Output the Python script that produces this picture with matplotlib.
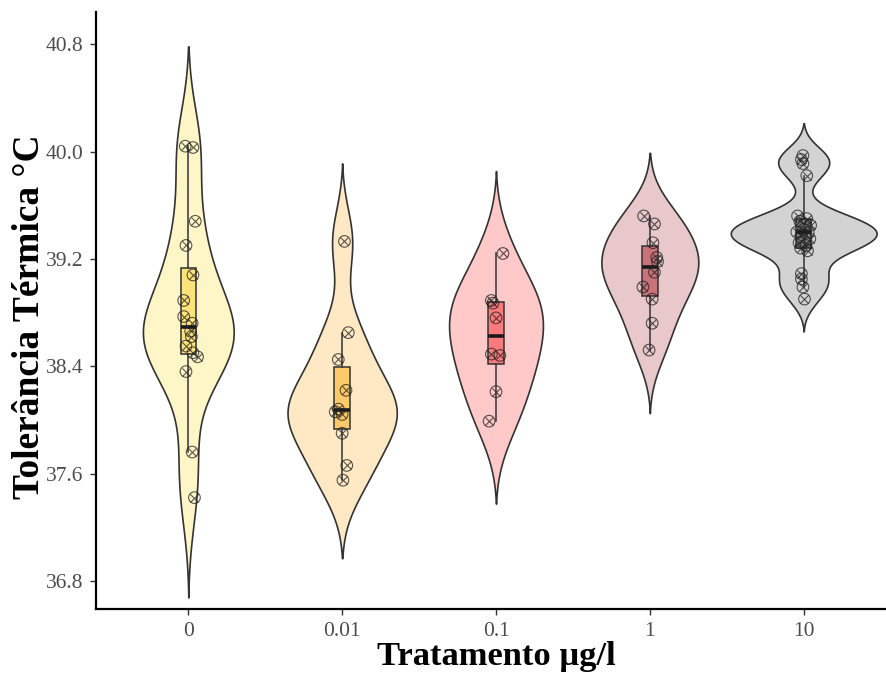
import numpy as np
import matplotlib
matplotlib.use("Agg")
import matplotlib.pyplot as plt

plt.rcParams['font.family'] = ['Liberation Serif', 'DejaVu Serif']

# treatment groups (µg/l)
groups = ["0", "0.01", "0.1", "1", "10"]

# thermal tolerance readings per group (°C)
temp_0 = [40.04, 40.03, 39.48, 39.30, 39.08, 38.89, 38.77, 38.72, 38.66,
          38.62, 38.55, 38.50, 38.47, 38.36, 37.76, 37.42]
temp_001 = [39.33, 38.65, 38.45, 38.22, 38.08, 38.06, 38.04, 37.90, 37.66, 37.55]
temp_01 = [39.24, 38.89, 38.87, 38.76, 38.49, 38.48, 38.21, 37.99]
temp_1 = [39.52, 39.46, 39.32, 39.21, 39.18, 39.10, 38.99, 38.90, 38.72, 38.52]
temp_10 = [39.97, 39.94, 39.91, 39.82, 39.52, 39.50, 39.48, 39.45, 39.42,
           39.40, 39.40, 39.38, 39.35, 39.32, 39.30, 39.28, 39.26,
           39.09, 39.05, 38.99, 38.90]

# horizontal jitter of each point (category units)
jit_0 = [-0.02, 0.03, 0.045, -0.015, 0.03, -0.03, -0.03, 0.025, 0.015,
         0.02, -0.015, 0.03, 0.06, -0.015, 0.025, 0.04]
jit_001 = [0.015, 0.04, -0.025, 0.025, -0.025, -0.045, 0.0, 0.0, 0.03, 0.005]
jit_01 = [0.045, -0.03, -0.02, 0.0, -0.03, 0.025, 0.0, -0.045]
jit_1 = [-0.04, 0.03, 0.02, 0.045, 0.05, 0.03, -0.045, 0.015, 0.015, -0.005]
jit_10 = [-0.005, -0.015, -0.005, 0.02, -0.04, 0.02, -0.025, 0.045, 0.0,
          -0.045, 0.03, -0.015, 0.04, -0.03, 0.015, -0.02, 0.025,
          -0.015, -0.015, -0.005, 0.005]

data = [temp_0, temp_001, temp_01, temp_1, temp_10]
jitter = [jit_0, jit_001, jit_01, jit_1, jit_10]

violin_colors = ['#FFF6C8', '#FFE9C4', '#FFC9C9', '#E8C8CA', '#D3D3D3']
box_colors = ['#FFE37A', '#FDC96A', '#FF7B7B', '#C87378', '#808080']
max_half = [0.295, 0.355, 0.305, 0.315, 0.474]
bw_adjust = 1.25
cut = 2.4


def bw_nrd0(x):
    x = np.asarray(x)
    q75, q25 = np.percentile(x, [75, 25])
    lo = min(x.std(ddof=1), (q75 - q25) / 1.34)
    return 0.9 * lo * len(x) ** -0.2


def kde(x):
    x = np.asarray(x)
    bw = bw_nrd0(x) * bw_adjust
    grid = np.linspace(x.min() - cut * bw, x.max() + cut * bw, 512)
    d = np.exp(-0.5 * ((grid[:, None] - x[None, :]) / bw) ** 2).sum(1)
    d = d / (len(x) * bw * np.sqrt(2 * np.pi))
    d = d - d.min()
    return grid, d


fig = plt.figure(figsize=(8.86, 6.73), dpi=100)
ax = fig.add_axes([96 / 886, 64 / 673, 800 / 886, 597 / 673])

for i, vals in enumerate(data):
    grid, d = kde(vals)
    w = d / d.max() * max_half[i]
    ax.fill_betweenx(grid, i - w, i + w, facecolor=violin_colors[i],
                     edgecolor='#333333', lw=1.2, zorder=1)

bp = ax.boxplot(data, positions=range(len(data)), widths=0.1, showfliers=False,
                showcaps=False, patch_artist=True, whis=1.5,
                medianprops=dict(color='#1a1a1a', lw=2.6),
                whiskerprops=dict(color='#333333', lw=1.1),
                boxprops=dict(edgecolor='#333333', lw=1.1), zorder=2)
for patch, c in zip(bp['boxes'], box_colors):
    patch.set_facecolor(c)

for i, (vals, jit) in enumerate(zip(data, jitter)):
    xs = i + np.asarray(jit)
    ax.scatter(xs, vals, s=70, facecolors='none', edgecolors='#222222',
               linewidths=0.8, alpha=0.75, zorder=3)
    ax.scatter(xs, vals, s=35, marker='x', color='#222222',
               linewidths=0.8, alpha=0.75, zorder=3)

ax.set_xlim(-0.6, 4.6)
ax.set_ylim(36.59, 41.04)
ax.set_xticks(range(len(groups)))
ax.set_xticklabels(groups)
yt = [36.8, 37.6, 38.4, 39.2, 40.0, 40.8]
ax.set_yticks(yt)
ax.set_yticklabels(["%.1f" % v for v in yt])

for s in ['top', 'right']:
    ax.spines[s].set_visible(False)
for s in ['left', 'bottom']:
    ax.spines[s].set_linewidth(1.6)
    ax.spines[s].set_color('black')
ax.tick_params(axis='both', colors='#333333', length=4, width=1,
               labelsize=15.5, labelcolor='#4D4D4D', pad=5)

ax.set_xlabel('Tratamento µg/l', fontsize=24.8, fontweight='bold')
ax.xaxis.set_label_coords(0.5, -0.054)
ax.set_ylabel('Tolerância Térmica °C', fontsize=27, fontweight='bold')
ax.yaxis.set_label_coords(-0.061, 0.49)

fig.savefig('out.png', dpi=100)
